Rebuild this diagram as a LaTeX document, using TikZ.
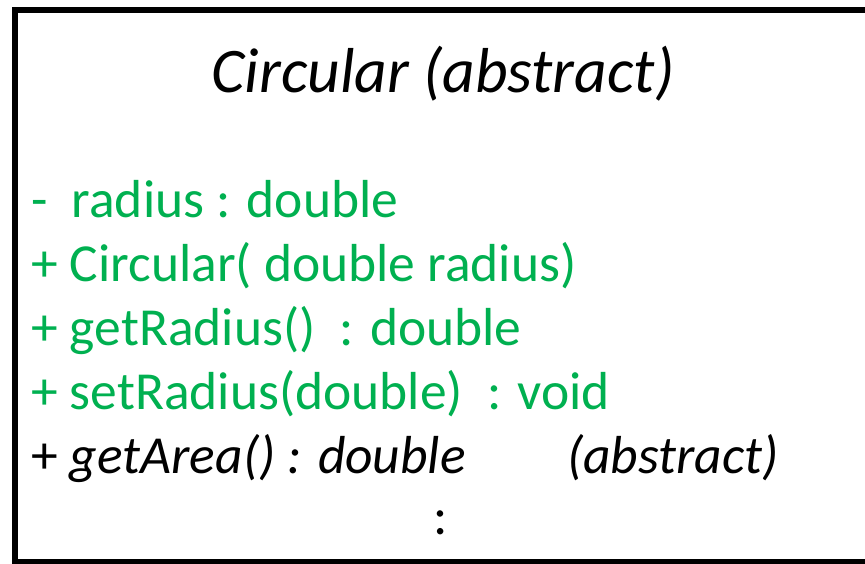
\documentclass[tikz,border=0pt]{standalone}
\usepackage{fontspec}
\setmainfont{Carlito}
\usepackage{xcolor}
\usepackage{tikz}
\usetikzlibrary{positioning}
\definecolor{umlgreen}{HTML}{00B050}

\begin{document}
\begin{tikzpicture}[x=1pt,y=-1pt,
  member/.style={anchor=base west,inner sep=0pt,font=\fontsize{53.5}{60}\selectfont},
  field/.style={member,text=umlgreen}]
  \useasboundingbox (0,0) rectangle (865,563);
  \draw[line width=6pt] (15,10) rectangle (890,562);
  \node[anchor=base,inner sep=0pt,font=\fontsize{63.5}{70}\selectfont\itshape] (title) at (443,92) {Circular (abstract)};
  \node[field] (radius) at (31,217) {-\ \ radius : double};
  \node[field] (ctor) at (31,281) {+ Circular( double radius)};
  \node[field] (getr) at (31,345) {+ getRadius()\ \ : double};
  \node[field] (setr) at (31,409) {+ setRadius(double)\ \ : void};
  \node[member] (area) at (31,473) {+ \textit{getArea() : double}};
  \node[member,font=\fontsize{53.5}{60}\selectfont\itshape] (abs) at (567,473) {(abstract)};
  \node[member,anchor=base] (more) at (441,534) {:};
\end{tikzpicture}
\end{document}
